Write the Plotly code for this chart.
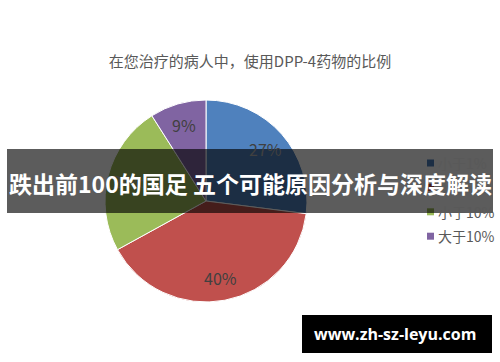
import math
import plotly.graph_objects as go

labels = ["小于1%", "小于5%", "小于10%", "大于10%"]
values = [27, 40, 24, 9]
colors = ["#4F81BD", "#C0504D", "#9BBB59", "#8064A2"]

title_text = "在您治疗的病人中，使用DPP-4药物的比例"
banner_text = "跌出前100的国足 五个可能原因分析与深度解读"
watermark_text = "www.zh-sz-leyu.com"

W, H = 500, 362
CX, CY, R = 206, 201, 101  # pie centre / radius in pixels

fig = go.Figure(go.Pie(
    labels=labels,
    values=values,
    sort=False,
    direction="clockwise",
    rotation=0,
    marker=dict(colors=colors, line=dict(color="white", width=1)),
    textinfo="none",
    domain=dict(x=[(CX - R) / W, (CX + R) / W], y=[1 - (CY + R) / H, 1 - (CY - R) / H]),
    hoverinfo="skip",
    showlegend=False,
))

annotations = []
# slice labels placed along each slice's mid-angle
total = sum(values)
cum = 0
for v in values:
    mid = (cum + v / 2) / total * 2 * math.pi
    cum += v
    px = CX + 0.78 * R * math.sin(mid)
    py = CY - 0.78 * R * math.cos(mid)
    annotations.append(dict(text=f"{round(v / total * 100)}%", xref="paper", yref="paper",
                            x=px / W, y=1 - py / H, xanchor="center", yanchor="middle",
                            showarrow=False,
                            font=dict(family="Noto Sans CJK SC, Open Sans, sans-serif", size=16, color="#404040")))

shapes = [
    dict(type="rect", xref="paper", yref="paper", x0=7 / W, x1=493 / W,
         y0=1 - 213 / H, y1=1 - 149 / H, fillcolor="rgba(0,0,0,0.64)",
         line=dict(width=0), layer="above"),
    dict(type="rect", xref="paper", yref="paper", x0=302 / W, x1=492 / W,
         y0=1 - 353 / H, y1=1 - 315 / H, fillcolor="black",
         line=dict(width=0), layer="above"),
]

# legend
LX, LY0, LSTEP, MS = 427, 163, 24.4, 7
legend_shapes = []
for i, (lab, col) in enumerate(zip(labels, colors)):
    yc = LY0 + i * LSTEP
    legend_shapes.append(dict(type="rect", xref="paper", yref="paper",
                              x0=LX / W, x1=(LX + MS) / W,
                              y0=1 - (yc + MS / 2) / H, y1=1 - (yc - MS / 2) / H,
                              fillcolor=col, line=dict(width=0), layer="below"))
    annotations.append(dict(text=lab, xref="paper", yref="paper",
                            x=(LX + 9) / W, y=1 - yc / H, xanchor="left", yanchor="middle",
                            showarrow=False,
                            font=dict(family="Noto Sans CJK SC, sans-serif", size=14, color="#595959")))

annotations += [
    dict(text=banner_text, xref="paper", yref="paper", x=250 / W, y=1 - 183 / H,
         xanchor="center", yanchor="middle", showarrow=False,
         font=dict(family="Noto Sans CJK SC, sans-serif", size=23, color="white", weight="bold")),
    dict(text=watermark_text, xref="paper", yref="paper", x=395 / W, y=1 - 334 / H,
         xanchor="center", yanchor="middle", showarrow=False,
         font=dict(family="Open Sans, DejaVu Sans, sans-serif", size=16, color="white", weight="bold")),
]

fig.update_layout(
    width=W, height=H,
    margin=dict(l=0, r=0, t=0, b=0, autoexpand=False),
    paper_bgcolor="white",
    plot_bgcolor="white",
    title=dict(text=title_text, x=0.5, xanchor="center", y=1 - 62 / H, yanchor="middle",
               font=dict(family="Noto Sans CJK SC, sans-serif", size=15, color="#595959")),
    showlegend=False,
    shapes=legend_shapes + shapes,
    annotations=annotations,
)

fig.write_html("out.html")
